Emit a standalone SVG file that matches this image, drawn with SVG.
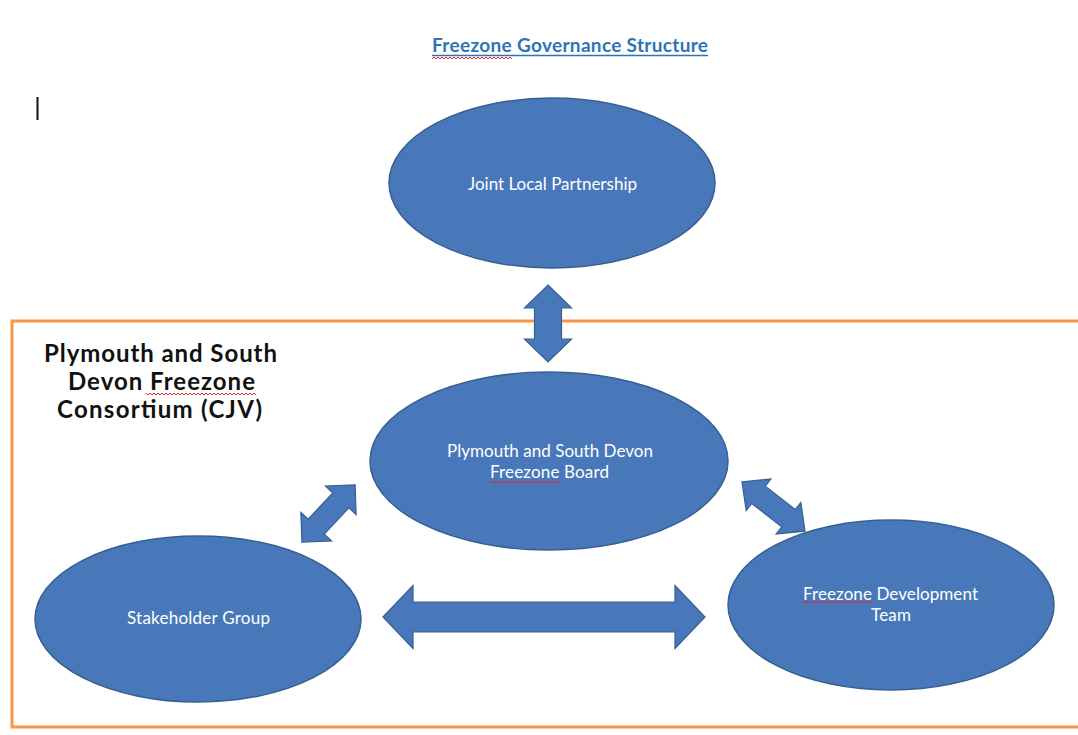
<svg xmlns="http://www.w3.org/2000/svg" width="1078" height="735" viewBox="0 0 1078 735">
  <style>
    .node { fill: #4878BA; stroke: #36608F; stroke-width: 1.5; }
    .label { font-family: Lato, "Open Sans", "Liberation Sans", sans-serif; font-size: 17px; fill: #FFFFFF; }
    .conn { fill: #4878BA; stroke: #36608F; stroke-width: 1.2; stroke-linejoin: miter; }
    .head { font-family: Lato, "Liberation Sans", sans-serif; font-weight: bold; font-size: 24px; fill: #111111; }
    .title { font-family: Lato, "Liberation Sans", sans-serif; font-weight: bold; font-size: 19px; fill: #2E74B5; }
  </style>
  <defs>
    <!-- spell-check style wavy underline -->
    <pattern id="squiggle" width="4" height="4" patternUnits="userSpaceOnUse">
      <path d="M0 3 L2 1 L4 3" fill="none" stroke="#E0202A" stroke-width="1"/>
    </pattern>
  </defs>

  <rect width="1078" height="735" fill="#FFFFFF"/>

  <!-- title -->
  <g id="title">
    <text class="title" x="432" y="52" textLength="276">Freezone Governance Structure</text>
    <line x1="432" y1="55.5" x2="708" y2="55.5" stroke="#2E74B5" stroke-width="1.5"/>
    <rect x="432" y="56" width="80" height="4" fill="url(#squiggle)"/>
  </g>

  <!-- text cursor -->
  <line x1="37.5" y1="97" x2="37.5" y2="120" stroke="#111111" stroke-width="2"/>

  <!-- consortium boundary -->
  <g id="consortium">
    <path d="M1080 321 H12 V727 H1080" fill="none" stroke="#F79646" stroke-width="3"/>
    <text class="head" x="44" y="362" textLength="233">Plymouth and South</text>
    <text class="head" x="68" y="390" textLength="187">Devon Freezone</text>
    <text class="head" x="57" y="418" textLength="205">Consortium (CJV)</text>
    <rect x="146" y="392" width="110" height="4" fill="url(#squiggle)"/>
  </g>

  <!-- connectors: block double arrows -->
  <g id="connectors">
    <path class="conn" transform="translate(548 323.5) rotate(90)"
      d="M-38.5 0 L-15.5 -23.5 L-15.5 -13.5 L15.5 -13.5 L15.5 -23.5 L38.5 0 L15.5 23.5 L15.5 13.5 L-15.5 13.5 L-15.5 23.5 Z"/>
    <path class="conn" transform="translate(544 617)"
      d="M-161 0 L-131 -31.5 L-131 -15 L131 -15 L131 -31.5 L161 0 L131 31.5 L131 15 L-131 15 L-131 31.5 Z"/>
    <path class="conn" transform="translate(328.5 513.5) rotate(-47)"
      d="M-39 0 L-18 -21 L-18 -11 L18 -11 L18 -21 L39 0 L18 21 L18 11 L-18 11 L-18 21 Z"/>
    <path class="conn" transform="translate(773.5 506.5) rotate(38)"
      d="M-40 0 L-19 -20 L-19 -11 L19 -11 L19 -20 L40 0 L19 20 L19 11 L-19 11 L-19 20 Z"/>
  </g>

  <g id="joint-local-partnership">
    <ellipse class="node" cx="552" cy="183" rx="163" ry="85"/>
    <text class="label" x="468" y="190" textLength="169">Joint Local Partnership</text>
  </g>

  <g id="freezone-board">
    <ellipse class="node" cx="549" cy="461" rx="179" ry="89"/>
    <text class="label" x="447" y="457" textLength="206">Plymouth and South Devon</text>
    <text class="label" x="490" y="478" textLength="119">Freezone Board</text>
    <rect x="490" y="480" width="70" height="4" fill="url(#squiggle)"/>
  </g>

  <g id="stakeholder-group">
    <ellipse class="node" cx="198" cy="619" rx="163" ry="83"/>
    <text class="label" x="127" y="624" textLength="143">Stakeholder Group</text>
  </g>

  <g id="development-team">
    <ellipse class="node" cx="891" cy="605" rx="163" ry="85"/>
    <text class="label" x="803" y="600" textLength="175">Freezone Development</text>
    <text class="label" x="871" y="621" textLength="40">Team</text>
    <rect x="803" y="600" width="70" height="4" fill="url(#squiggle)"/>
  </g>
</svg>
